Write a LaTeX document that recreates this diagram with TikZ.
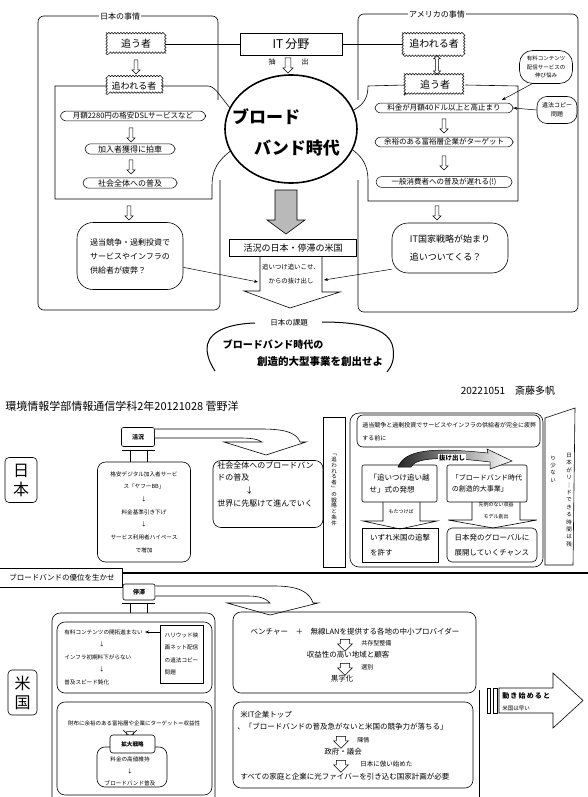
\documentclass[tikz,border=0pt]{standalone}
\usepackage{fontspec}
\setmainfont{Noto Sans CJK JP}
\usetikzlibrary{shapes.geometric,shapes.arrows,decorations.pathmorphing,arrows.meta}
\newcommand\myfs[2]{\fontsize{#1}{#2}\selectfont}
\tikzset{
 frm/.style={draw, line width=0.6pt, rounded corners=6pt},
 oval/.style={draw, rounded corners=6pt, line width=0.5pt, inner xsep=2pt, inner ysep=1.5pt},
 wav/.style={draw, line width=0.5pt, decorate, decoration={snake, amplitude=0.8pt, segment length=3pt}},
 harr/.style={single arrow, draw, line width=0.5pt, shape border rotate=270, minimum height=14pt, minimum width=8pt, single arrow head extend=2pt, inner sep=1.5pt},
 barr/.style={single arrow, draw, line width=0.5pt, shape border rotate=270, minimum height=12pt, minimum width=15pt, single arrow head extend=2pt, inner sep=3pt},
 lbl/.style={fill=white, inner sep=1pt},
 txt/.style={inner sep=0pt},
 tip/.style={-{Stealth[length=4pt,width=3pt]}, line width=0.5pt},
}
\begin{document}
\begin{tikzpicture}[x=1pt,y=-1pt,line width=0.6pt]
\useasboundingbox[fill=white] (0,0) rectangle (588,797);

%================ TOP (hand-drawn) ================
% frames
\draw[frm] (218,100) -- (218,16) -- (38,16) -- (38,310) -- (220,310) -- (220,180);
\node[lbl, font=\myfs{8}{9}] (jpT) at (120,16) {日本の事情};
\draw[frm] (358,100) -- (358,14) -- (578,14) -- (578,312) -- (358,312) -- (358,180);
\node[lbl, font=\myfs{8}{9}] (usT) at (437,14) {アメリカの事情};

% IT field
\node[draw, minimum width=102pt, minimum height=22pt, font=\myfs{12}{12}] (it) at (291,44) {IT\,分野};

% left top wavy boxes
\node[txt, minimum width=58pt, minimum height=20pt, font=\myfs{10}{10}] (lou) at (136,44) {追う者};
\draw[wav] (lou.south west) rectangle (lou.north east);
\node[txt, minimum width=54pt, minimum height=16pt, font=\myfs{9}{9}] (lour) at (134,86) {追われる者};
\draw[wav] (lour.south west) rectangle (lour.north east);
\node[harr] (la1) at (136,66) {};

% right top wavy boxes
\node[txt, minimum width=62pt, minimum height=20pt, font=\myfs{10}{10}] (rou) at (434,44) {追われる者};
\draw[wav] (rou.south west) rectangle (rou.north east);
\node[txt, minimum width=60pt, minimum height=20pt, font=\myfs{10}{10}] (ro) at (435,85) {追う者};
\draw[wav] (ro.south west) rectangle (ro.north east);
\node[double arrow, draw, line width=0.5pt, shape border rotate=90, minimum height=19pt, minimum width=7pt, double arrow head extend=1.5pt, inner sep=1pt] (rda) at (437,65) {};

\draw (lou.east) -- (it.west);
\draw (it.east) -- (rou.west);

% inner frames joining the big circle
\draw (lour.east) -- (208,86) .. controls (216,86) and (222,100) .. (232,110);
\draw (232,150) .. controls (218,160) and (212,170) .. (212,185) -- (212,199) -- (55,199) -- (55,86) -- (lour.west);
\draw (ro.west) -- (368,86) .. controls (368,100) and (362,106) .. (350,112);
\draw (350,148) .. controls (362,156) and (368,165) .. (368,180) -- (368,201) -- (518,201) -- (518,86) -- (ro.east);

% left chain
\node[oval, minimum width=145pt, font=\myfs{7.5}{8}] (l1) at (133,116) {月額2280円の格安DSLサービスなど};
\node[harr] (la2) at (131,134) {};
\node[oval, minimum width=90pt, font=\myfs{8}{8}] (l2) at (130,149) {加入者獲得に拍車};
\node[harr] (la3) at (131,166) {};
\node[oval, minimum width=94pt, font=\myfs{8}{8}] (l3) at (130,183) {社会全体への普及};
\node[harr] (la4) at (129,212) {};
\node[draw, rounded corners=16pt, minimum width=106pt, minimum height=67pt, align=left, font=\myfs{8}{14}] (lb) at (130,256) {過当競争・過剰投資で\\サービスやインフラの\\供給者が疲弊？};

% right chain
\node[oval, minimum width=138pt, font=\myfs{7.5}{8}] (r1) at (444,108) {料金が月額40ドル以上と高止まり};
\node[harr] (ra1) at (444,125) {};
\node[oval, minimum width=138pt, font=\myfs{7.5}{8}] (r2) at (444,142) {余裕のある富裕層企業がターゲット};
\node[harr] (ra2) at (444,162) {};
\node[oval, minimum width=136pt, font=\myfs{7.5}{8}] (r3) at (444,182) {一般消費者への普及が遅れる(!)};
\node[harr] (ra3) at (437,212) {};
\node[draw, rounded corners=16pt, minimum width=116pt, minimum height=50pt, align=left, font=\myfs{9}{18}] (rb) at (450,248) {IT国家戦略が始まり\\追いついてくる？};
\node[draw, rounded corners=13pt, minimum width=53pt, minimum height=33pt, align=center, font=\myfs{5.5}{8.5}] (sb1) at (546,67) {有料コンテンツ\\配信サービスの\\伸び悩み};
\node[draw, rounded corners=10pt, minimum width=40pt, minimum height=27pt, align=center, font=\myfs{6}{9}] (sb2) at (557,110) {違法コピー\\問題};
\coordinate (r1ne) at (502,100);
\draw[tip] (sb1.230) -- (r1ne);
\draw[tip] (sb2.west) -- (r1.east);

% centre
\node[harr, minimum height=15pt, minimum width=10pt, inner sep=2.5pt] (ita) at (288,64) {};
\node[txt, font=\myfs{7}{7}] (chu) at (272,62) {抽};
\node[txt, font=\myfs{7}{7}] (shu) at (305,62) {出};
\node[draw, ellipse, line width=1.6pt, fill=white, minimum width=132pt, minimum height=108pt] (bb) at (291,129) {};
\node[txt, font=\bfseries\myfs{17}{17}] (bbt1) at (266,117) {ブロード};
\node[txt, font=\bfseries\myfs{17}{17}] (bbt2) at (297,148) {バンド時代};
\draw[fill=gray!55] (275,190) -- (297,190) -- (297,220) -- (305,220) -- (286,234) -- (267,220) -- (275,220) -- cycle;
\node[draw, minimum width=127pt, minimum height=17pt, font=\myfs{9}{9}] (kk) at (293,248) {活況の日本・停滞の米国};
\draw (260,257) -- (260,291) -- (244,291) -- (290,308) -- (340,292) -- (322,292) -- (322,257);
\node[txt, align=center, font=\myfs{6.4}{14}] (nk) at (291,274) {追いつけ追いこせ、\\からの抜け出し};
\coordinate (pentL) at (258,282);
\coordinate (pentR) at (324,280);
\draw[tip] (lb.-12) -- (pentL);
\draw[tip] (rb.200) -- (pentR);

% Japan's task
\node[txt, font=\myfs{7.5}{8}] (kadai) at (289,323) {日本の課題};
\draw[line width=1pt] (255,323) .. controls (222,324) and (206,335) .. (207,350) .. controls (208,360) and (212,366) .. (215,371);
\draw[line width=1pt] (322,322) .. controls (360,322) and (390,328) .. (393,348) .. controls (395,360) and (391,367) .. (387,372);
\node[txt, font=\bfseries\myfs{10}{10}] (kd1) at (273,345) {ブロードバンド時代の};
\node[txt, font=\bfseries\myfs{10.5}{10.5}] (kd2) at (320,362) {創造的大型事業を創出せよ};

%================ BOTTOM (typed) ================
\node[txt, anchor=west, font=\myfs{11}{11}] (hdr) at (5,406) {環境情報学部情報通信学科2年20121028 菅野洋};
\node[txt, font=\myfs{10}{10}] (date) at (508,391) {20221051　斎藤多帆};

% Japan
\node[draw, rounded corners=4pt, minimum width=32pt, minimum height=45pt, align=center, font=\myfs{16}{19}] (jp) at (21,480) {日\\本};
\node[draw, rounded corners=2pt, minimum width=33pt, minimum height=19pt, font=\bfseries\myfs{6}{6}] (kj) at (138,437) {活況};
\draw (122,450) -- (155,450);
\draw (130,450) -- (130,462);
\draw (147,450) -- (147,462);
\draw[fill=white] (kj.north east |- 0,429) -- (262,429) .. controls (288,429) and (297,434) .. (300,442) -- (306,442) -- (266,455) -- (224,442) -- (262,442) .. controls (258,439) and (250,438) .. (240,438) -- (kj.east |- 0,438);

\node[draw, rounded corners=8pt, minimum width=93pt, minimum height=100pt, align=center, font=\myfs{5.6}{12.7}] (ba) at (144,512) {格安デジタル加入者サービ\\ス「ヤフーBB」\\↓\\料金基準引き下げ\\↓\\サービス利用者ハイペース\\で増加};
\node[draw, rounded corners=8pt, minimum width=110pt, minimum height=67pt] (bbx) at (268,494) {};
\node[txt, anchor=north west, align=left, font=\myfs{8}{12.7}] (bbxt) at (217,461) {社会全体へのブロードバン\\ドの普及\\\hspace{3.5em}↓\\世界に先駆けて進んでいく};

\node[draw, minimum width=22pt, minimum height=150pt] (bc) at (334,492) {};
\node[txt, align=center, font=\myfs{5.5}{5.8}] (bct) at (334,490) {﹁\\追\\わ\\れ\\る\\者\\﹂\\の\\戦\\略\\と\\条\\件};

\node[draw, rounded corners=9pt, minimum width=193pt, minimum height=154pt] (bd) at (446.5,490) {};
\node[draw, rounded corners=6pt, minimum width=183pt, minimum height=32pt] (be) at (448.5,431) {};
\node[txt, anchor=west, font=\myfs{6}{6}] (bet1) at (362,425) {過当競争と過剰投資でサービスやインフラの供給者が完全に疲弊};
\node[txt, anchor=west, font=\myfs{6}{6}] (bet2) at (362,438) {する前に};

\node[draw, rounded corners=2pt, minimum width=75pt, minimum height=37pt, align=left, font=\myfs{7.5}{11.5}] (bf) at (399.5,483.5) {「追いつけ追い越\\せ」式の発想};
\node[draw, rounded corners=2pt, minimum width=80pt, minimum height=37pt, align=left, font=\myfs{7}{11.5}] (bg) at (487,483.5) {「ブロードバンド時代\\の創造的大事業」};
\draw[left color=black!85, right color=white, line width=0.5pt] (398,467) .. controls (405,450) and (430,447) .. (488,453) -- (487,449) -- (512,461) -- (490,469) -- (490,462) .. controls (440,456) and (415,458) .. (411,467) -- cycle;
\node[lbl, font=\bfseries\myfs{6.5}{7}] (nuke) at (452,458) {抜け出し};

\draw (383,502) -- (383,521) -- (363,521) -- (400,529) -- (437,521) -- (420,521) -- (420,502);
\node[txt, font=\myfs{5}{5}] (mota) at (401,512) {もたつけば};
\draw (472,502) -- (472,520) -- (448,520) -- (493,528) -- (537,520) -- (520,520) -- (520,502);
\node[txt, align=center, font=\myfs{5}{12}] (senrei) at (496,511) {先例のない収益\\モデル創出};

\node[draw, minimum width=76pt, minimum height=34pt, align=left, font=\myfs{7.5}{15}] (bh) at (400,545) {いずれ米国の追撃\\を許す};
\node[draw, rounded corners=5pt, minimum width=90pt, minimum height=34pt, align=left, font=\myfs{7.5}{15}] (bi) at (492,545) {日本発のグローバルに\\展開していくチャンス};

\draw (545,418) -- (575,408) -- (573,565) -- (545,565) -- cycle;
\node[txt, align=center, font=\myfs{5.5}{7.4}] (jcol1) at (569,500) {日\\本\\が\\リ\\｜\\ド\\で\\き\\る\\時\\間\\は\\残};
\node[txt, align=center, font=\myfs{5.5}{7.4}] (jcol2) at (553,469) {り\\少\\な\\い};

% separator
\draw[line width=2pt] (122,573) -- (588,573);
\draw (0,568) -- (122,568) -- (122,587) -- (0,587);
\node[txt, font=\myfs{7.5}{8}] (yui) at (62,578) {ブロードバンドの優位を生かせ};

% USA
\node[draw, rounded corners=2pt, minimum width=32pt, minimum height=16pt, font=\bfseries\myfs{6}{6}] (st) at (139,592) {停滞};
\draw (122,603) -- (155,603);
\draw (130,603) -- (130,613);
\draw (147,603) -- (147,613);
\draw[fill=white] (st.north east |- 0,586) -- (275,586) .. controls (300,586) and (310,593) .. (313,603) -- (318,603) -- (270,615) -- (227,603) -- (270,603) .. controls (266,598) and (258,596) .. (248,596) -- (st.east |- 0,596);

\draw[rounded corners=8pt] (52,800) -- (52,613) -- (215,613) -- (215,800);
\node[draw, rounded corners=8pt, minimum width=155pt, minimum height=71pt] (u1) at (134.5,657.5) {};
\node[txt, anchor=west, font=\myfs{5.6}{6}] (t1) at (64,632) {有料コンテンツの開拓進まない};
\node[txt, font=\myfs{5.6}{6}] (ar1) at (102,644) {↓};
\node[txt, anchor=west, font=\myfs{5.6}{6}] (t2) at (64,657) {インフラ初期料下がらない};
\node[txt, font=\myfs{5.6}{6}] (ar2) at (102,669) {↓};
\node[txt, anchor=west, font=\myfs{5.6}{6}] (t3) at (64,682) {普及スピード鈍化};
\node[draw, minimum width=43pt, minimum height=58pt, align=left, font=\myfs{5.6}{12.5}] (hw) at (181.5,654) {ハリウッド映\\画ネット配信\\の違法コピー\\問題};
\draw[tip] (hw.west |- t1.east) -- ([xshift=2pt]t1.east);

\node[draw, rounded corners=8pt, minimum width=155pt, minimum height=93pt] (u2) at (134.5,748.5) {};
\node[txt, font=\myfs{5.5}{6}] (t4) at (134,723) {財布に余裕のある富裕層や企業にターゲット＝収益性};
\node[harr, minimum height=12pt, minimum width=12pt, inner sep=2.5pt] (xa) at (130,736) {};
\draw (123,730) -- (137,743);
\draw (137,730) -- (123,743);
\node[draw, rounded corners=8pt, minimum width=70pt, minimum height=40pt] (u3) at (132,767) {};
\node[draw, fill=white, rounded corners=3pt, minimum width=45pt, minimum height=18pt, font=\bfseries\myfs{5.6}{6}] (kdr) at (132.5,744) {拡大戦略};
\node[txt, font=\myfs{5.6}{6}] (t5) at (130,759) {料金の高値維持};
\node[txt, font=\myfs{5.6}{6}] (ar3) at (130,771) {↓};
\node[txt, font=\myfs{5.6}{6}] (t6) at (130,783) {ブロードバンド普及};

\node[draw, rounded corners=4pt, minimum width=29pt, minimum height=45pt, align=center, font=\myfs{16}{19}] (us) at (22.5,692.5) {米\\国};

\node[draw, rounded corners=8pt, minimum width=243pt, minimum height=81pt] (v1) at (354.5,652.5) {};
\node[txt, font=\myfs{7.5}{8}] (v1a) at (355,632) {ベンチャー　＋　無線LANを提供する各地の中小プロバイダー};
\node[barr] (va1) at (345,643) {};
\node[txt, anchor=west, font=\myfs{6}{6}] (v1b) at (361,643) {共存型整備};
\node[txt, font=\myfs{7.5}{8}] (v1c) at (348,655) {収益性の高い地域と顧客};
\node[barr] (va2) at (345,667) {};
\node[txt, anchor=west, font=\myfs{6}{6}] (v1d) at (361,667) {選別};
\node[txt, font=\myfs{7.5}{8}] (v1e) at (342,679) {黒字化};

\node[draw, rounded corners=8pt, minimum width=240pt, minimum height=86pt] (v2) at (353,745) {};
\node[txt, anchor=west, font=\myfs{7.5}{8}] (v2a) at (240,715) {米IT企業トップ};
\node[txt, anchor=west, font=\myfs{7.5}{8}] (v2b) at (237,727) {、「ブロードバンドの普及急がないと米国の競争力が落ちる」};
\node[barr] (vb1) at (341,740) {};
\node[txt, anchor=west, font=\myfs{6}{6}] (v2c) at (357,740) {陳情};
\node[txt, font=\myfs{7.5}{8}] (v2d) at (343,752) {政府・議会};
\node[barr] (vb2) at (341,764) {};
\node[txt, anchor=west, font=\myfs{6.5}{7}] (v2e) at (360,764) {日本に倣い始めた};
\node[txt, anchor=west, font=\myfs{7.5}{8}] (v2f) at (240,777) {すべての家庭と企業に光ファイバーを引き込む国家計画が必要};

\draw (479,690) -- (479,797);

\draw (487,688) rectangle (490,713);
\draw (493,688) rectangle (497,713);
\draw (499,688) -- (553,688) -- (553,673) -- (583,700.5) -- (553,728) -- (553,713) -- (499,713) -- cycle;
\node[txt, anchor=west, font=\bfseries\myfs{7}{7}] (ugoki) at (502,696) {動\,き\,始\,め\,る\,と};
\node[txt, anchor=west, font=\myfs{5.5}{6}] (hayai) at (502,708) {米国は早い};

\end{tikzpicture}
\end{document}
